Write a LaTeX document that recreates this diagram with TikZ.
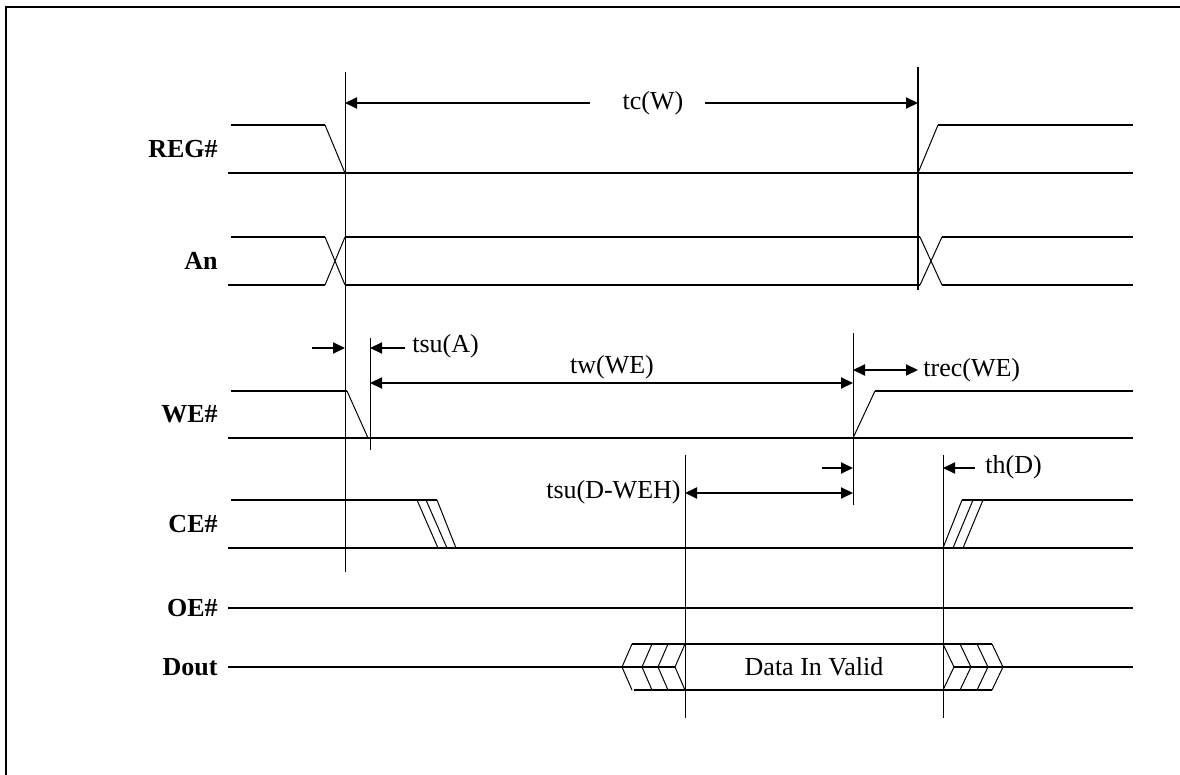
\documentclass[tikz,border=0pt]{standalone}
\usepackage{fontspec}
\setmainfont{Liberation Serif}
\usetikzlibrary{arrows.meta}
\begin{document}
\begin{tikzpicture}[x=0.5pt,y=-0.5pt,
  sig/.style={line width=1pt},
  edge/.style={line width=0.5pt},
  guide/.style={line width=0.5pt},
  dim/.style={line width=1pt,-{Triangle[length=6pt,width=5.5pt]}},
  dimboth/.style={line width=1pt,{Triangle[length=6pt,width=5.5pt]}-{Triangle[length=6pt,width=5.5pt]}},
  lbl/.style={font=\fontsize{13}{15}\selectfont\bfseries,anchor=east,inner sep=0pt},
  txt/.style={font=\fontsize{13}{15}\selectfont,inner sep=1pt}]
\useasboundingbox (0,0) rectangle (1180,775);
\draw[line width=1.3pt] (6,775) -- (6,7) -- (1180,7);

% labels
\node[lbl] (lreg) at (218,149) {REG\#};
\node[lbl] (lan)  at (218,261) {An};
\node[lbl] (lwe)  at (218,414) {WE\#};
\node[lbl] (lce)  at (218,524) {CE\#};
\node[lbl] (loe)  at (218,608) {OE\#};
\node[lbl] (ldo)  at (218,667) {Dout};

% guide verticals
\coordinate (g1t) at (345,72);  \coordinate (g1b) at (345,572);
\coordinate (g2t) at (918,67);  \coordinate (g2b) at (918,290);
\coordinate (g3t) at (370,338); \coordinate (g3b) at (370,450);
\coordinate (g4t) at (853,333); \coordinate (g4b) at (853,505);
\coordinate (g5t) at (685,455); \coordinate (g5b) at (685,718);
\coordinate (g6t) at (943,455); \coordinate (g6b) at (943,718);
\draw[guide] (g1t) -- (g1b);
\draw[line width=1pt] (g2t) -- (g2b);
\draw[guide] (g3t) -- (g3b);
\draw[guide] (g4t) -- (g4b);
\draw[guide] (g5t) -- (g5b);
\draw[guide] (g6t) -- (g6b);

% REG#
\draw[sig] (231,125) -- (325,125);
\draw[edge] (325,125) -- (345,173);
\draw[sig] (228,173) -- (1133,173);
\draw[edge] (918,173) -- (938,125);
\draw[sig] (938,125) -- (1133,125);

% An
\draw[sig] (231,237) -- (325,237);
\draw[sig] (228,285) -- (325,285);
\draw[edge] (325,237) -- (345,285) (325,285) -- (345,237);
\draw[sig] (345,237) -- (920,237);
\draw[sig] (345,285) -- (920,285);
\draw[edge] (920,237) -- (942,285) (920,285) -- (942,237);
\draw[sig] (942,237) -- (1133,237);
\draw[sig] (942,285) -- (1133,285);

% WE#
\draw[sig] (231,391) -- (347,391);
\draw[edge] (347,391) -- (368,438);
\draw[sig] (228,438) -- (1133,438);
\draw[edge] (853,438) -- (875,391);
\draw[sig] (875,391) -- (1133,391);

% CE#
\draw[sig] (231,500) -- (437,500);
\draw[edge] (417,500) -- (438,548) (426,500) -- (447,548) (437,500) -- (456,548);
\draw[sig] (228,548) -- (1133,548);
\draw[edge] (943,548) -- (962,500) (953,548) -- (973,500) (963,548) -- (983,500);
\draw[sig] (962,500) -- (1133,500);

% OE#
\draw[sig] (228,608) -- (1133,608);

% Dout
\draw[sig] (228,667) -- (675,667);
\draw[sig] (954,667) -- (1133,667);
\draw[sig] (632,644) -- (992,644);
\draw[sig] (634,690) -- (992,690);
\foreach \v in {622,642,658,675}
  \draw[edge] (\v+10,644) -- (\v,667) -- (\v+10,690);
\foreach \e in {943,960,977,992}
  \draw[edge] (\e,644) -- (\e+11,667) -- (\e,690);
\node[txt] (dv) at (814,667) {Data In Valid};

% tc(W)
\node[txt] (tcw) at (653,103) {tc(W)};
\coordinate (tca) at (590,103); \coordinate (tcb) at (705,103);
\draw[dim] (tca) -- (g1t |- tca);
\draw[dim] (tcb) -- (g2t |- tcb);

% tsu(A)
\coordinate (sa1) at (312,348); \coordinate (sa2) at (405,348);
\draw[dim] (sa1) -- (g1t |- sa1);
\draw[dim] (sa2) -- (g3t |- sa2);
\node[txt,anchor=west] (tsua) at (410,346) {tsu(A)};

% tw(WE)
\coordinate (tw1) at (370,383); \coordinate (tw2) at (853,383);
\draw[dimboth] (tw1) -- (tw2);
\node[txt] (twwe) at (612,367) {tw(WE)};

% trec(WE)
\coordinate (tr1) at (853,370); \coordinate (tr2) at (918,370);
\draw[dimboth] (tr1) -- (tr2);
\node[txt,anchor=west] (trec) at (921,370) {trec(WE)};

% tsu(D-WEH)
\coordinate (sd0) at (822,468);
\draw[dim] (sd0) -- (g4t |- sd0);
\coordinate (sd1) at (685,493); \coordinate (sd2) at (853,493);
\draw[dimboth] (sd1) -- (sd2);
\node[txt,anchor=east] (tsud) at (683,492) {tsu(D-WEH)};

% th(D)
\coordinate (th0) at (975,468);
\draw[dim] (th0) -- (g6t |- th0);
\node[txt,anchor=west] (thd) at (983,467) {th(D)};
\end{tikzpicture}
\end{document}
